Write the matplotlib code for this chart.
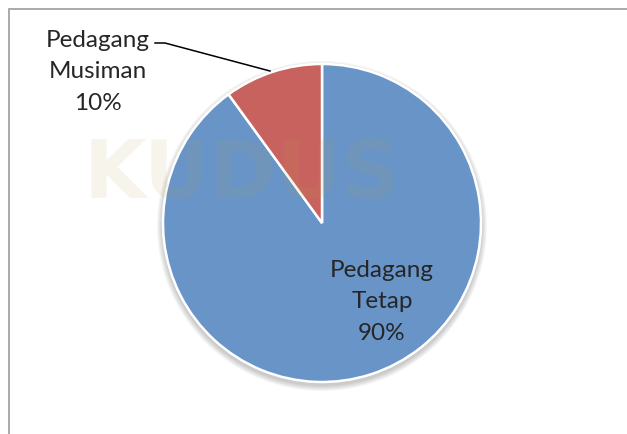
import matplotlib
matplotlib.use("Agg")
import matplotlib.pyplot as plt
from matplotlib.patches import Circle, Rectangle

# --- data ---
categories = ["Pedagang Tetap", "Pedagang Musiman"]
shares = [90, 10]
colors = ["#6894C8", "#C8625E"]

W, H = 627, 434
CX, CY, R = 322, H - 223, 159

fig = plt.figure(figsize=(W / 100, H / 100), dpi=100)
fig.patch.set_facecolor("white")
ax = fig.add_axes([0, 0, 1, 1])

# soft shadow under the pie
for i in range(6):
    ax.add_patch(Circle((CX, CY - 3), R + 1 + i, color="black", alpha=0.035, lw=0, zorder=1))

wedges, _ = ax.pie(
    shares,
    colors=colors,
    startangle=90,
    counterclock=False,
    center=(CX, CY),
    radius=R,
    wedgeprops=dict(edgecolor="white", linewidth=1.8),
)
for w in wedges:
    w.set_zorder(2)

ax.set_xlim(0, W)
ax.set_ylim(0, H)
ax.set_aspect("equal")
ax.axis("off")

# watermark
ax.text(242, H - 176, "KUDUS", fontsize=58, fontweight="bold", family="DejaVu Sans Condensed",
        color="#B8A050", alpha=0.11, ha="center", va="center", zorder=3)

# frame of the chart area
ax.add_patch(Rectangle((8.5, -10), 700, H - 8.5 + 10, fill=False,
                       edgecolor="#9C9C9C", lw=1.2, zorder=5))

font = dict(family=["Lato", "DejaVu Sans"], fontsize=17.5, color="#262626",
            ha="center", va="center", linespacing=1.6, zorder=6)

lbl_big = f"{categories[0].replace(' ', chr(10))}\n{shares[0]}%"
ax.text(382, H - 302, lbl_big, **font)

lbl_small = f"{categories[1].replace(' ', chr(10))}\n{shares[1]}%"
ax.text(98, H - 72, lbl_small, **font)
ax.plot([155, 165, 270], [H - 43, H - 43, H - 71], color="black", lw=1.1, zorder=6)

fig.savefig("out.png", dpi=100, facecolor="white")
